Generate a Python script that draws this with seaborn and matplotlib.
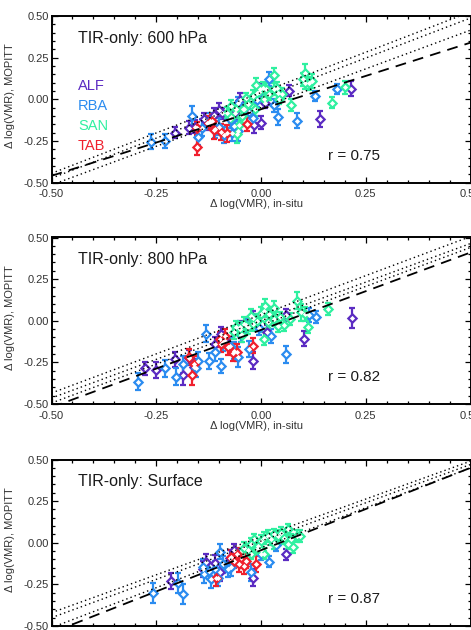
import numpy as np
import pandas as pd
import matplotlib
matplotlib.use('Agg')
import matplotlib.pyplot as plt
from matplotlib.ticker import MultipleLocator, FormatStrFormatter
import seaborn as sns

SITES = ['ALF', 'RBA', 'SAN', 'TAB']
SITE_COLORS = ['#5b2bc2', '#2b8cf0', '#2ff0a0', '#f0202e']
PANEL_TITLES = ['TIR-only: 600 hPa', 'TIR-only: 800 hPa', 'TIR-only: Surface']
R_VALUES = [0.75, 0.82, 0.87]
TICKS = [-0.50, -0.25, 0.00, 0.25, 0.50]

# regression (dashed) and reference (dotted) lines per panel
FIT_INTERCEPT = [-0.06, -0.055, -0.045]
FIT_SLOPE = [0.80, 0.93, 0.99]
DOT_INTERCEPT = [[0.040, 0.007, -0.050], [0.036, 0.000, -0.027], [0.035, 0.010, -0.030]]
DOT_SLOPE = [[0.97, 0.962, 0.93], [0.94, 0.928, 0.934], [0.91, 0.92, 0.96]]

# ---- 600 hPa ----
ALF_600_X = [-0.205, -0.172, -0.158, -0.130, -0.112, -0.100, -0.092, -0.062, -0.050, -0.017,
             -0.002, 0.000, 0.067, 0.142, 0.214, -0.135, -0.040, 0.010]
ALF_600_Y = [-0.200, -0.170, -0.165, -0.145, -0.095, -0.065, -0.085, -0.085, -0.005, -0.155,
             0.060, -0.140, 0.052, -0.118, 0.062, -0.120, -0.060, -0.020]
ALF_600_E = [0.035, 0.040, 0.040, 0.040, 0.040, 0.040, 0.035, 0.040, 0.040, 0.045,
             0.040, 0.040, 0.035, 0.050, 0.045, 0.040, 0.035, 0.035]
RBA_600_X = [-0.262, -0.228, -0.165, -0.150, -0.122, -0.100, -0.088, -0.056, -0.056, -0.028,
             -0.009, -0.005, 0.019, 0.031, 0.041, 0.086, 0.128, 0.182, -0.140, -0.075,
             -0.065, -0.020, -0.110, -0.070]
RBA_600_Y = [-0.255, -0.250, -0.100, -0.225, -0.130, -0.165, -0.215, -0.025, -0.190, -0.075,
             -0.005, 0.045, 0.122, -0.036, -0.107, -0.130, 0.022, 0.062, -0.170, -0.120,
             -0.160, -0.110, -0.180, -0.200]
RBA_600_E = [0.045, 0.040, 0.060, 0.050, 0.050, 0.050, 0.050, 0.040, 0.060, 0.040,
             0.040, 0.040, 0.040, 0.040, 0.050, 0.045, 0.030, 0.030, 0.050, 0.050,
             0.060, 0.050, 0.050, 0.050]
SAN_600_X = [-0.072, -0.072, -0.052, -0.058, -0.044, -0.036, -0.013, -0.009, 0.005, 0.011,
             0.031, 0.030, 0.038, 0.040, 0.007, 0.043, 0.051, 0.071, 0.106, 0.106,
             0.115, 0.122, 0.170, 0.200, -0.030, -0.020, -0.045, -0.060, 0.020, -0.015,
             0.100, -0.080]
SAN_600_Y = [-0.038, -0.105, -0.155, -0.210, -0.058, 0.005, 0.085, 0.035, 0.065, 0.063,
             0.145, 0.060, 0.070, 0.035, 0.004, 0.004, 0.034, -0.036, 0.160, 0.100,
             0.095, 0.110, -0.020, 0.072, -0.030, 0.020, -0.100, -0.060, 0.030, -0.060,
             0.120, -0.080]
SAN_600_E = [0.035, 0.040, 0.045, 0.050, 0.035, 0.035, 0.040, 0.035, 0.040, 0.035,
             0.040, 0.035, 0.035, 0.040, 0.035, 0.035, 0.035, 0.035, 0.050, 0.040,
             0.040, 0.040, 0.035, 0.040, 0.035, 0.035, 0.040, 0.040, 0.035, 0.040,
             0.040, 0.035]
TAB_600_X = [-0.152, -0.152, -0.116, -0.112, -0.096, -0.080, -0.033, -0.125]
TAB_600_Y = [-0.175, -0.285, -0.128, -0.187, -0.197, -0.205, -0.148, -0.140]
TAB_600_E = [0.040, 0.050, 0.040, 0.050, 0.050, 0.050, 0.040, 0.040]

# ---- 800 hPa ----
ALF_800_X = [-0.278, -0.250, -0.206, -0.187, -0.172, -0.160, -0.095, -0.085, -0.020, -0.018,
             0.014, 0.060, 0.103, 0.218, -0.050, -0.110]
ALF_800_Y = [-0.285, -0.295, -0.230, -0.325, -0.222, -0.280, -0.077, -0.120, 0.017, -0.240,
             -0.067, 0.033, -0.108, 0.017, -0.040, -0.140]
ALF_800_E = [0.040, 0.050, 0.045, 0.060, 0.045, 0.050, 0.040, 0.040, 0.040, 0.050,
             0.040, 0.035, 0.045, 0.060, 0.040, 0.045]
RBA_800_X = [-0.294, -0.230, -0.202, -0.187, -0.155, -0.150, -0.131, -0.123, -0.095, -0.091,
             -0.065, -0.048, -0.036, -0.028, -0.004, 0.025, 0.060, 0.115, 0.131, -0.055,
             -0.075, -0.110]
RBA_800_Y = [-0.365, -0.285, -0.335, -0.262, -0.285, -0.240, -0.077, -0.242, -0.272, -0.129,
             -0.180, -0.088, -0.025, -0.170, -0.046, -0.092, -0.202, 0.035, 0.021, -0.220,
             -0.150, -0.190]
RBA_800_E = [0.050, 0.050, 0.050, 0.050, 0.050, 0.050, 0.050, 0.050, 0.040, 0.050,
             0.050, 0.040, 0.040, 0.050, 0.040, 0.040, 0.050, 0.040, 0.035, 0.060,
             0.050, 0.050]
SAN_800_X = [0.087, 0.095, 0.105, 0.111, 0.159, 0.056, 0.032, 0.020, 0.008, 0.000,
             -0.010, -0.018, -0.030, -0.040, -0.050, -0.060, -0.045, 0.008, 0.016, 0.030,
             -0.025, 0.045, -0.065, 0.010, 0.070, 0.040]
SAN_800_Y = [0.121, 0.050, 0.040, -0.035, 0.069, -0.025, 0.079, 0.040, 0.060, 0.040,
             0.000, -0.020, -0.040, -0.020, -0.050, -0.040, -0.085, -0.108, -0.005, 0.010,
             0.030, 0.020, -0.070, 0.090, 0.010, -0.030]
SAN_800_E = [0.050, 0.050, 0.040, 0.040, 0.035, 0.035, 0.040, 0.040, 0.040, 0.040,
             0.040, 0.040, 0.040, 0.040, 0.040, 0.040, 0.040, 0.040, 0.040, 0.040,
             0.040, 0.035, 0.040, 0.040, 0.035, 0.035]
TAB_800_X = [-0.171, -0.165, -0.160, -0.099, -0.087, -0.079, -0.067, -0.058, -0.020, -0.095]
TAB_800_Y = [-0.215, -0.325, -0.260, -0.110, -0.090, -0.160, -0.192, -0.190, -0.150, -0.140]
TAB_800_E = [0.045, 0.060, 0.050, 0.045, 0.040, 0.045, 0.050, 0.050, 0.045, 0.050]

# ---- Surface ----
ALF_SFC_X = [-0.214, -0.139, -0.131, -0.099, -0.064, -0.020, 0.060, -0.075, -0.110]
ALF_SFC_Y = [-0.230, -0.158, -0.117, -0.178, -0.045, -0.209, -0.070, -0.090, -0.120]
ALF_SFC_E = [0.050, 0.050, 0.050, 0.050, 0.040, 0.050, 0.035, 0.045, 0.045]
RBA_SFC_X = [-0.258, -0.199, -0.187, -0.139, -0.135, -0.125, -0.119, -0.103, -0.099, -0.079,
             -0.071, -0.024, 0.020, 0.036, 0.000, -0.110, -0.090]
RBA_SFC_Y = [-0.300, -0.240, -0.310, -0.148, -0.189, -0.170, -0.219, -0.209, -0.055, -0.158,
             -0.148, -0.178, -0.113, -0.014, -0.066, -0.160, -0.130]
RBA_SFC_E = [0.060, 0.060, 0.060, 0.050, 0.050, 0.050, 0.050, 0.050, 0.045, 0.050,
             0.050, 0.050, 0.035, 0.035, 0.040, 0.050, 0.050]
SAN_SFC_X = [-0.040, -0.024, -0.016, -0.008, 0.000, 0.008, 0.016, 0.024, 0.032, 0.040,
             0.048, 0.056, 0.064, 0.072, 0.085, 0.093, 0.000, 0.008, -0.024, -0.032,
             0.064, 0.076, -0.010, 0.030]
SAN_SFC_Y = [-0.030, -0.005, 0.020, -0.020, 0.010, 0.030, 0.040, 0.020, 0.050, 0.040,
             0.060, 0.030, 0.080, 0.020, 0.040, 0.040, -0.045, -0.065, -0.065, -0.045,
             -0.005, -0.025, -0.040, 0.000]
SAN_SFC_E = [0.035] * 24
TAB_SFC_X = [-0.107, -0.071, -0.064, -0.052, -0.040, -0.036, -0.012, -0.058]
TAB_SFC_Y = [-0.209, -0.086, -0.107, -0.127, -0.137, -0.107, -0.127, -0.070]
TAB_SFC_E = [0.050, 0.040, 0.045, 0.050, 0.050, 0.045, 0.050, 0.040]

PANEL_DATA = [
    [(ALF_600_X, ALF_600_Y, ALF_600_E), (RBA_600_X, RBA_600_Y, RBA_600_E),
     (SAN_600_X, SAN_600_Y, SAN_600_E), (TAB_600_X, TAB_600_Y, TAB_600_E)],
    [(ALF_800_X, ALF_800_Y, ALF_800_E), (RBA_800_X, RBA_800_Y, RBA_800_E),
     (SAN_800_X, SAN_800_Y, SAN_800_E), (TAB_800_X, TAB_800_Y, TAB_800_E)],
    [(ALF_SFC_X, ALF_SFC_Y, ALF_SFC_E), (RBA_SFC_X, RBA_SFC_Y, RBA_SFC_E),
     (SAN_SFC_X, SAN_SFC_Y, SAN_SFC_E), (TAB_SFC_X, TAB_SFC_Y, TAB_SFC_E)],
]

sns.set_theme(style='ticks')
plt.rcParams['font.family'] = ['Liberation Sans', 'DejaVu Sans']
plt.rcParams['axes.unicode_minus'] = False

fig = plt.figure(figsize=(4.71, 6.30), dpi=100)
W, H = 471.0, 630.0
ax_left, ax_w, ax_h = 51.5 / W, 419.0 / W, 166.5 / H
bottoms_px = [182.5, 404.0, 626.0]
palette = dict(zip(SITES, SITE_COLORS))

for i, bpx in enumerate(bottoms_px):
    ax = fig.add_axes([ax_left, 1 - bpx / H, ax_w, ax_h])
    rows = []
    for site, (xs, ys, es) in zip(SITES, PANEL_DATA[i]):
        rows.append(pd.DataFrame({'x': xs, 'y': ys, 'err': es, 'site': site}))
    df = pd.concat(rows, ignore_index=True)

    for site in SITES:
        d = df[df['site'] == site]
        ax.errorbar(d['x'], d['y'], yerr=d['err'], fmt='none', ecolor=palette[site],
                    elinewidth=1.6, capsize=2.3, capthick=1.6, zorder=2)
        sns.scatterplot(data=d, x='x', y='y', color=palette[site], marker='D', s=34,
                        linewidth=0, ax=ax, zorder=3, legend=False)
        ax.scatter(d['x'], d['y'], marker='D', s=7, color='white', linewidth=0, zorder=4)

    ax.set_xlim(-0.5, 0.5)
    ax.set_ylim(-0.5, 0.5)
    xs_line = np.array(ax.get_xlim())
    for b, m in zip(DOT_INTERCEPT[i], DOT_SLOPE[i]):
        ax.plot(xs_line, b + m * xs_line, color='black', lw=1.0, ls=(0, (1, 2.2)), zorder=5)
    ax.plot(xs_line, FIT_INTERCEPT[i] + FIT_SLOPE[i] * xs_line, color='black', lw=1.3,
            ls=(0, (6, 4)), zorder=5)

    ax.set_xticks(TICKS)
    ax.set_yticks(TICKS)
    ax.xaxis.set_minor_locator(MultipleLocator(0.05))
    ax.yaxis.set_minor_locator(MultipleLocator(0.05))
    ax.xaxis.set_major_formatter(FormatStrFormatter('%.2f'))
    ax.yaxis.set_major_formatter(FormatStrFormatter('%.2f'))
    ax.tick_params(which='both', direction='in', top=True, right=True, color='black',
                   labelsize=8, labelcolor='#333333', width=0.9)
    ax.tick_params(which='major', length=4)
    ax.tick_params(which='minor', length=2)
    ax.tick_params(axis='y', pad=2)
    ax.tick_params(axis='x', pad=5)
    for sp in ax.spines.values():
        sp.set_linewidth(1.4)
        sp.set_color('black')

    ax.set_xlabel('\u0394 log(VMR), in-situ', fontsize=8, color='#333333')
    ax.set_ylabel('\u0394 log(VMR), MOPITT', fontsize=8, color='#333333')
    ax.xaxis.set_label_coords(0.49, -0.13)
    ax.yaxis.set_label_coords(-0.099, 0.52)
    ax.xaxis.label.set_va('center')
    ax.yaxis.label.set_va('center')

    ax.text(0.063, 0.865, PANEL_TITLES[i], transform=ax.transAxes, fontsize=11.5,
            color='#1a1a1a', va='center', ha='left')
    ax.text(0.66, 0.16, f'r = {R_VALUES[i]:.2f}', transform=ax.transAxes, fontsize=11,
            color='#1a1a1a', va='center', ha='left')
    if i == 0:
        for k, site in enumerate(SITES):
            ax.text(0.063, 0.58 - k * 0.1205, site, transform=ax.transAxes, fontsize=10.5,
                    color=palette[site], va='center', ha='left')

fig.savefig('out.png', dpi=100)
